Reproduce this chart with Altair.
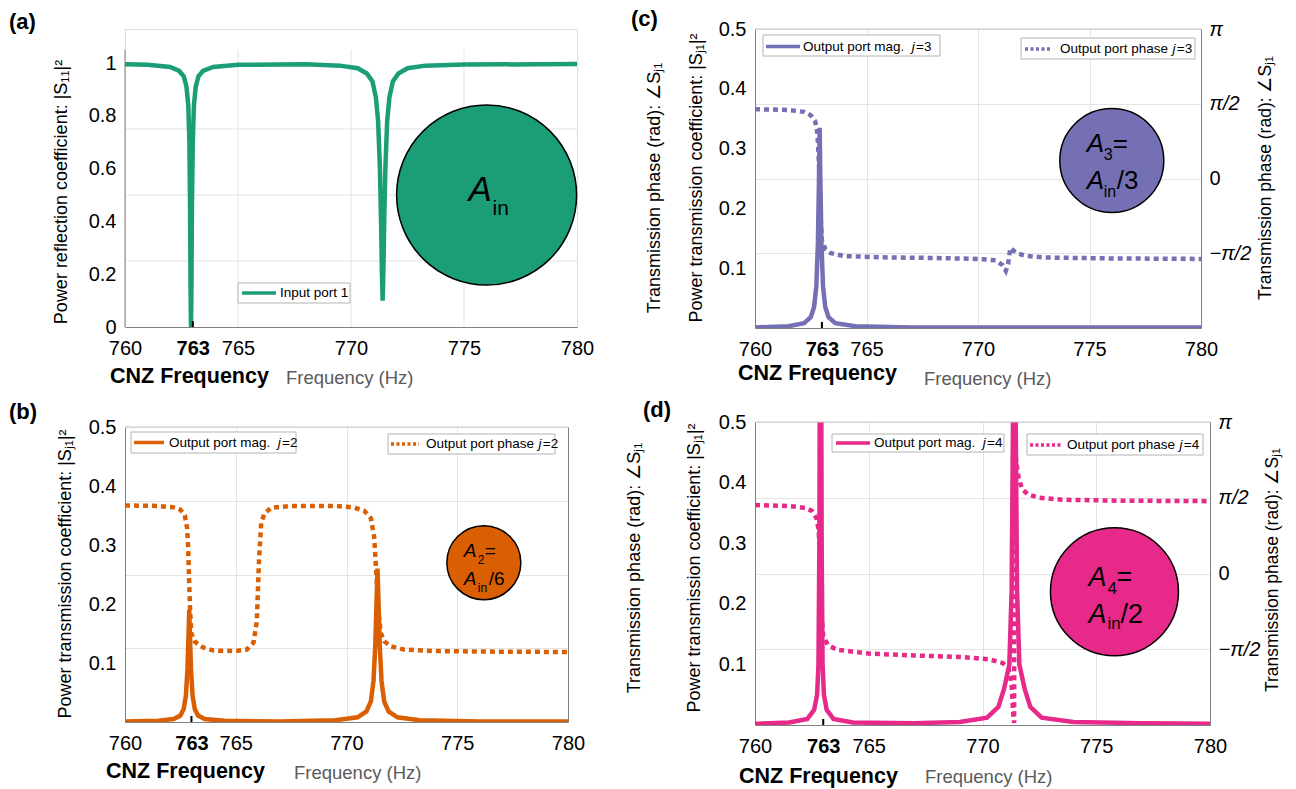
import math
import altair as alt
import pandas as pd

PI = math.pi
FONT = "Liberation Sans, Arial, Helvetica, sans-serif"

# ---------------- data ----------------
x_ticks = [760, 763, 765, 770, 775, 780]
x_grid = [765, 770, 775]
cnz_freq = [763]
refl_ticks = [0, 0.2, 0.4, 0.6, 0.8, 1]
trans_ticks = [0.1, 0.2, 0.3, 0.4, 0.5]
phase_ticks = [-PI / 2, 0, PI / 2, PI]
grid_a = [0.25, 0.5, 0.75]

# (a) input port reflection |S11|^2
f_refl = [760, 761, 762, 762.4, 762.6, 762.72, 762.8, 762.85, 762.88, 762.9,
          762.92, 762.94, 762.96, 763.0, 763.05, 763.13, 763.25, 763.45, 763.9, 765,
          768, 769.5, 770.3, 770.7, 770.95, 771.1, 771.2, 771.28, 771.33, 771.37,
          771.4, 771.43, 771.47, 771.52, 771.6, 771.7, 771.85, 772.1, 772.5, 773.3,
          775, 780]
s11 = [0.995, 0.993, 0.985, 0.97, 0.95, 0.91, 0.84, 0.7, 0.45, 0.15,
       0.0, 0.15, 0.45, 0.7, 0.84, 0.91, 0.95, 0.97, 0.985, 0.993,
       0.995, 0.99, 0.98, 0.96, 0.93, 0.87, 0.78, 0.6, 0.4, 0.2,
       0.1, 0.2, 0.4, 0.6, 0.78, 0.87, 0.93, 0.96, 0.98, 0.99,
       0.994, 0.996]

# (b) output port j=2
f_mag2 = [760, 761.5, 762.2, 762.5, 762.65, 762.75, 762.82, 762.87, 762.9, 762.93,
          762.98, 763.05, 763.15, 763.3, 763.6, 764.5, 767, 769.5, 770.5, 770.9,
          771.1, 771.22, 771.3, 771.36, 771.4, 771.44, 771.5, 771.58, 771.7, 771.9,
          772.3, 773.3, 776, 780]
mag2 = [0.001, 0.002, 0.005, 0.011, 0.022, 0.045, 0.09, 0.15, 0.19, 0.15,
        0.09, 0.045, 0.022, 0.011, 0.005, 0.002, 0.001, 0.003, 0.008, 0.018,
        0.035, 0.07, 0.13, 0.21, 0.26, 0.21, 0.13, 0.07, 0.035, 0.018,
        0.008, 0.003, 0.001, 0.001]
f_ph2 = [760, 761.5, 762.2, 762.5, 762.7, 762.8, 762.85, 762.9, 762.95, 763.0,
         763.15, 763.5, 764, 765, 765.5, 765.8, 765.95, 766.05, 766.15, 766.3,
         766.6, 767.5, 769.5, 770.3, 770.8, 771.1, 771.25, 771.35, 771.45, 771.55,
         771.7, 772, 772.6, 774, 777, 780]
ph2 = [1.47, 1.46, 1.43, 1.38, 1.26, 1.0, 0.6, -0.2, -0.9, -1.26,
       -1.43, -1.55, -1.62, -1.63, -1.60, -1.45, -1.0, 0.3, 1.1, 1.3,
       1.42, 1.46, 1.46, 1.43, 1.36, 1.2, 0.8, 0.0, -0.8, -1.25,
       -1.42, -1.53, -1.60, -1.63, -1.645, -1.65]

# (c) output port j=3
f_mag3 = [760, 761.5, 762.2, 762.5, 762.65, 762.75, 762.82, 762.87, 762.9, 762.93,
          762.98, 763.05, 763.15, 763.3, 763.6, 764.5, 767, 771, 775, 780]
mag3 = [0.001, 0.003, 0.008, 0.018, 0.035, 0.07, 0.14, 0.25, 0.335, 0.25,
        0.14, 0.07, 0.035, 0.018, 0.008, 0.003, 0.001, 0.001, 0.001, 0.001]
f_ph3 = [760, 761.5, 762.2, 762.5, 762.7, 762.8, 762.87, 762.93, 763.0, 763.15,
         763.4, 764, 766, 768, 770, 770.8, 771.1, 771.25, 771.35, 771.45,
         771.6, 771.8, 772.2, 773, 776, 780]
ph3 = [1.457, 1.44, 1.40, 1.33, 1.2, 0.95, 0.3, -0.7, -1.3, -1.48,
       -1.57, -1.63, -1.66, -1.67, -1.69, -1.72, -1.82, -1.94, -1.8, -1.46,
       -1.52, -1.58, -1.63, -1.66, -1.68, -1.69]

# (d) output port j=4
f_mag4 = [760, 761.5, 762.3, 762.6, 762.73, 762.79, 762.83, 762.88, 762.93, 762.97,
          763.03, 763.15, 763.45, 764.3, 767, 769, 770.2, 770.7, 770.95, 771.18,
          771.28, 771.34, 771.4, 771.46, 771.52, 771.62, 771.85, 772.1, 772.6, 774,
          777, 780]
mag4 = [0.002, 0.004, 0.01, 0.025, 0.05, 0.1, 0.3, 1.0, 0.3, 0.1,
        0.05, 0.025, 0.01, 0.004, 0.003, 0.005, 0.012, 0.03, 0.06, 0.1,
        0.22, 0.5, 1.0, 0.5, 0.22, 0.1, 0.06, 0.03, 0.012, 0.005,
        0.003, 0.002]
f_ph4 = [760, 761.5, 762.2, 762.5, 762.7, 762.8, 762.86, 762.92, 763.0, 763.2,
         763.6, 765, 767, 769, 770.3, 770.9, 771.15, 771.28, 771.35, 771.39,
         771.41, 771.45, 771.5, 771.6, 771.75, 772, 772.5, 773.5, 776, 780]
ph4 = [1.42, 1.40, 1.36, 1.30, 1.15, 0.9, 0.2, -0.8, -1.3, -1.48,
       -1.58, -1.66, -1.70, -1.73, -1.78, -1.86, -1.98, -2.3, -2.9, -3.1,
       3.1, 2.5, 2.26, 1.95, 1.75, 1.64, 1.57, 1.53, 1.51, 1.50]

GREEN, ORANGE, PURPLE, PINK = "#1b9e77", "#d95f02", "#7570b3", "#e7298a"
GRID = "#e3e3e3"
AXC = "#808080"
ONE = pd.DataFrame({"k": [0]})


# ---------------- helpers ----------------
def x_enc(grid=True):
    return alt.X(
        "f:Q",
        scale=alt.Scale(domain=[760, 780], nice=False, zero=False),
        axis=alt.Axis(
            values=x_ticks, title=None, format="d", labelFontSize=20, labelColor="black",
            labelFont=FONT,
            labelFontWeight={"condition": {"test": "datum.value == 763", "value": "bold"}, "value": "normal"},
            labelOverlap=False, labelFlush=False, labelPadding=11,
            grid=grid, gridColor=GRID,
            gridOpacity={"condition": {"test": "datum.value == 763 || datum.value == 760 || datum.value == 780",
                                       "value": 0}, "value": 1},
            ticks=False, domainColor=AXC,
        ),
    )


def y_enc(dom, ticks, domain_line=True):
    return alt.Y(
        "v:Q",
        scale=alt.Scale(domain=dom, nice=False, zero=False),
        axis=alt.Axis(values=ticks, format="~g", title=None, labelFontSize=20, labelColor="black",
                      labelFont=FONT, grid=False, ticks=False, labelPadding=9, domainColor=AXC,
                      domain=domain_line),
    )


def p_enc(show_labels):
    ax = dict(orient="right", values=phase_ticks, title=None, grid=True, gridColor=GRID, ticks=False,
              domainColor=AXC, labelFontSize=20, labelColor="black", labelFont=FONT, labelPadding=8)
    if show_labels:
        ax["labelExpr"] = ("datum.value > 3 ? 'π' : datum.value > 1 ? 'π/2' : "
                           "datum.value < -1 ? '−π/2' : '0'")
        ax["labelFontStyle"] = {"condition": {"test": "datum.value != 0", "value": "italic"}, "value": "normal"}
    else:
        ax["labels"] = False
    return alt.Y("p:Q", scale=alt.Scale(domain=[-PI, PI], nice=False, zero=False), axis=alt.Axis(**ax))


def vtext(x, y, s, size, weight="normal", style="normal", align="left", baseline="middle",
          color="black", angle=0):
    return alt.Chart(ONE).mark_text(align=align, baseline=baseline, fontSize=size, fontWeight=weight,
                                    fontStyle=style, color=color, angle=angle, font=FONT).encode(
        x=alt.value(x), y=alt.value(y), text=alt.value(s))


def seg(x1, x2, y, color, width, dash=None):
    kw = dict(color=color, strokeWidth=width)
    if dash:
        kw["strokeDash"] = dash
    return alt.Chart(ONE).mark_rule(**kw).encode(x=alt.value(x1), x2=alt.value(x2), y=alt.value(y))


def box(x1, y1, x2, y2):
    return alt.Chart(ONE).mark_rect(fill="white", stroke="#b4b4b4", strokeWidth=1).encode(
        x=alt.value(x1), x2=alt.value(x2), y=alt.value(y1), y2=alt.value(y2))


def legend(bx, line, tx, ty, color, dashed, word, jv):
    layers = [box(*bx),
              seg(line[0], line[1], line[2], color, 3.5, [3, 2.5] if dashed else None)]
    prefix = "Output port mag. " if word == "mag" else "Output port phase "
    w = (8.058 if word == "mag" else 8.338) * 13.5
    layers.append(vtext(tx, ty, prefix, 13.5))
    layers.append(vtext(tx + w, ty, "j", 13.5, style="italic"))
    layers.append(vtext(tx + w + 4.3, ty, "=" + jv, 13.5))
    return layers


def disc(xe, ye, cx, cy, size, color):
    return alt.Chart(pd.DataFrame({"f": [cx], "v": [cy]})).mark_point(
        shape="circle", filled=True, fill=color, stroke="black", strokeWidth=1.5, size=size,
        opacity=1).encode(x=xe, y=ye)


def ctext(xe, ye, cx, cy, s, dx, dy, size, style="normal"):
    return alt.Chart(pd.DataFrame({"f": [cx], "v": [cy]})).mark_text(
        text=s, dx=dx, dy=dy, fontSize=size, fontStyle=style, align="left", baseline="alphabetic",
        color="black", font=FONT).encode(x=xe, y=ye)


def cnz_tick(xe, h):
    return alt.Chart(pd.DataFrame({"f": cnz_freq})).mark_rule(color="black", strokeWidth=2).encode(
        x=xe, y=alt.value(h), y2=alt.value(h - 6))


def xtitles(cx, cy, fx, fy):
    return [vtext(cx, cy, "CNZ Frequency", 21.5, weight="bold"),
            vtext(fx, fy, "Frequency (Hz)", 18.5, color="#5a5a5a")]


TRANS_T = "Power transmission coefficient: |Sⱼ₁|²"
PHASE_T = "Transmission phase (rad): ∠Sⱼ₁"

# ---------------- panel (a) ----------------
# plot area is 298 px tall; the reflection axis (0..1) occupies its lower 264 px
W_A, H_A = 452, 298
xa, ya = x_enc(grid=False), y_enc([0, 298 / 264], refl_ticks, domain_line=False)
pa = alt.layer(
    alt.Chart(pd.DataFrame({"v": grid_a})).mark_rule(color=GRID, strokeWidth=1).encode(y=ya),
    alt.Chart(pd.DataFrame({"f": x_grid, "v": [0] * len(x_grid), "v2": [1.05] * len(x_grid)})).mark_rule(
        color=GRID, strokeWidth=1).encode(x=xa, y=ya, y2="v2:Q"),
    alt.Chart(pd.DataFrame({"v": [0], "v2": [1.05]})).mark_rule(color=AXC, strokeWidth=1).encode(
        x=alt.value(0), y=ya, y2="v2:Q"),
    alt.Chart(pd.DataFrame({"f": f_refl, "v": s11})).mark_line(color=GREEN, strokeWidth=4.5).encode(x=xa, y=ya),
    cnz_tick(xa, H_A),
    disc(xa, ya, 776, 0.5, 32400, GREEN),
    ctext(xa, ya, 776, 0.5, "A", -18, 6, 35, "italic"),
    ctext(xa, ya, 776, 0.5, "in", 6, 20, 21),
    box(113, 254, 225, 274),
    seg(117, 151, 264, GREEN, 3.5),
    vtext(155, 264, "Input port 1", 13.5),
    vtext(-116, -17, "(a)", 22, weight="bold", baseline="top"),
    vtext(-63, 163, "Power reflection coefficient: |S₁₁|²", 18, align="center", angle=270),
    *xtitles(-15, 348, 161, 349),
).properties(width=W_A, height=H_A)

# ---------------- panel (b) ----------------
W_B, H_B = 443, 295
xb, yb = x_enc(), y_enc([0, 0.5], trans_ticks)
left_b = alt.layer(
    alt.Chart(pd.DataFrame({"f": f_mag2, "v": mag2})).mark_line(color=ORANGE, strokeWidth=4.5, clip=True).encode(x=xb, y=yb),
    cnz_tick(xb, H_B),
    disc(xb, yb, 776.2, 0.27, 5476, ORANGE),
    ctext(xb, yb, 776.2, 0.27, "A", -20, -6, 19, "italic"),
    ctext(xb, yb, 776.2, 0.27, "2", -6, 1, 12),
    ctext(xb, yb, 776.2, 0.27, "=", 1, -6, 19),
    ctext(xb, yb, 776.2, 0.27, "A", -20, 22, 19, "italic"),
    ctext(xb, yb, 776.2, 0.27, "in", -6, 29, 12),
    ctext(xb, yb, 776.2, 0.27, "/6", 5, 22, 19),
)
pb = alt.layer(
    left_b,
    alt.Chart(pd.DataFrame({"f": f_ph2, "p": ph2})).mark_line(color=ORANGE, strokeWidth=4.5, strokeDash=[5, 4], clip=True).encode(x=xb, y=p_enc(False)),
    seg(0, W_B, 0, "#c8c8c8", 1),
    *legend((6, 5, 171, 26), (9, 39, 15.5), 44, 15.5, ORANGE, False, "mag", "2"),
    *legend((263, 7, 430, 27), (266, 294, 17), 301, 17, ORANGE, True, "phase", "2"),
    vtext(-116, -25, "(b)", 22, weight="bold", baseline="top"),
    vtext(-59, 147, TRANS_T, 18, align="center", angle=270),
    *xtitles(-19, 345, 169, 346),
).resolve_scale(y="independent").properties(width=W_B, height=H_B)

# ---------------- panel (c) ----------------
W_C, H_C = 446, 299
xc, yc = x_enc(), y_enc([0, 0.5], trans_ticks)
left_c = alt.layer(
    alt.Chart(pd.DataFrame({"f": f_mag3, "v": mag3})).mark_line(color=PURPLE, strokeWidth=4.5, clip=True).encode(x=xc, y=yc),
    cnz_tick(xc, H_C),
    disc(xc, yc, 776, 0.28, 10816, PURPLE),
    ctext(xc, yc, 776, 0.28, "A", -25, -9, 26, "italic"),
    ctext(xc, yc, 776, 0.28, "3", -8, -1, 16),
    ctext(xc, yc, 776, 0.28, "=", 1, -9, 26),
    ctext(xc, yc, 776, 0.28, "A", -25, 28, 26, "italic"),
    ctext(xc, yc, 776, 0.28, "in", -8, 36, 16),
    ctext(xc, yc, 776, 0.28, "/3", 5, 28, 26),
)
pc = alt.layer(
    left_c,
    alt.Chart(pd.DataFrame({"f": f_ph3, "p": ph3})).mark_line(color=PURPLE, strokeWidth=4.5, strokeDash=[5, 4], clip=True).encode(x=xc, y=p_enc(True)),
    seg(0, W_C, 0, "#c8c8c8", 1),
    *legend((8, 6, 185, 27), (11, 45, 17.5), 48, 17.5, PURPLE, False, "mag", "3"),
    *legend((266, 9, 440, 30), (270, 296, 20), 305, 20, PURPLE, True, "phase", "3"),
    vtext(-124, -20, "(c)", 22, weight="bold", baseline="top"),
    vtext(-58, 149, TRANS_T, 18, align="center", angle=270),
    vtext(-100, 159, PHASE_T, 18, align="center", angle=270),
    vtext(511, 149, PHASE_T, 17.5, align="center", angle=270),
    *xtitles(-17, 345, 169, 350),
).resolve_scale(y="independent").properties(width=W_C, height=H_C)

# ---------------- panel (d) ----------------
W_D, H_D = 455, 303
xd, yd = x_enc(), y_enc([0, 0.5], trans_ticks)
left_d = alt.layer(
    alt.Chart(pd.DataFrame({"f": f_mag4, "v": mag4})).mark_line(color=PINK, strokeWidth=4.5, clip=True).encode(x=xd, y=yd),
    cnz_tick(xd, H_D),
    disc(xd, yd, 775.8, 0.22, 16384, PINK),
    ctext(xd, yd, 775.8, 0.22, "A", -26, -6, 27, "italic"),
    ctext(xd, yd, 775.8, 0.22, "4", -7, 2, 17),
    ctext(xd, yd, 775.8, 0.22, "=", 2, -6, 27),
    ctext(xd, yd, 775.8, 0.22, "A", -26, 31, 27, "italic"),
    ctext(xd, yd, 775.8, 0.22, "in", -7, 37, 17),
    ctext(xd, yd, 775.8, 0.22, "/2", 6, 31, 27),
)
pd_ = alt.layer(
    left_d,
    alt.Chart(pd.DataFrame({"f": f_ph4, "p": ph4})).mark_line(color=PINK, strokeWidth=4.5, strokeDash=[5, 4], clip=True).encode(x=xd, y=p_enc(True)),
    seg(0, W_D, 0, "#c8c8c8", 1),
    *legend((77, 12, 249, 30), (81, 115, 21), 119, 21, PINK, False, "mag", "4"),
    *legend((272, 12, 448, 33), (275, 306, 23), 312, 23, PINK, True, "phase", "4"),
    vtext(-112, -22, "(d)", 22, weight="bold", baseline="top"),
    vtext(-60, 146, TRANS_T, 18, align="center", angle=270),
    vtext(-120, 146, PHASE_T, 18, align="center", angle=270),
    vtext(518, 148, PHASE_T, 17.5, align="center", angle=270),
    *xtitles(-16, 355, 170, 355),
).resolve_scale(y="independent").properties(width=W_D, height=H_D)

# ---------------- layout ----------------
left_col = alt.vconcat(pa, pb, spacing=100, bounds="flush")
right_col = alt.vconcat(pc, pd_, spacing=94, bounds="flush")

chart = alt.hconcat(left_col, right_col, spacing=30).properties(
    padding={"left": 8, "top": 7, "right": 2, "bottom": 2}
).configure_view(stroke=None).configure(background="white")

chart.save("out.html", embed_options={"renderer": "svg", "actions": False})
